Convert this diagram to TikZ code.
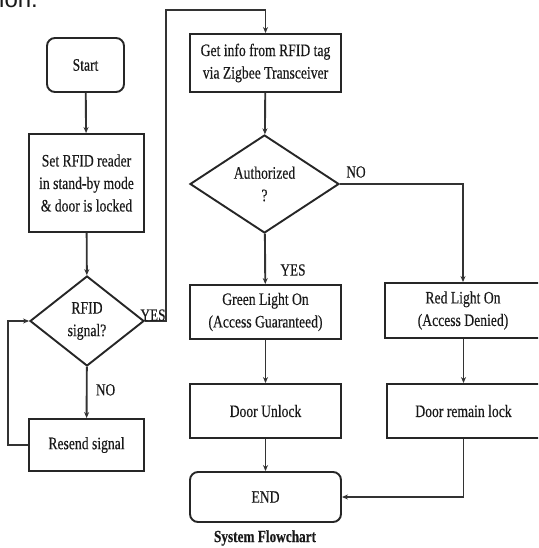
\documentclass[tikz,border=0pt]{standalone}
\usepackage{fontspec}
\setmainfont[FakeStretch=0.78,FakeBold=0.3]{Liberation Serif}
\newfontfamily\headfont{Liberation Sans}
\usetikzlibrary{shapes.geometric,arrows.meta}
\begin{document}
\begin{tikzpicture}[x=1pt,y=1pt,
  every node/.style={font=\fontsize{17.5}{22.5}\selectfont, text=black!90},
  box/.style={draw=black!85, line width=1.9pt, rectangle, inner sep=0pt, align=center},
  term/.style={box, rounded corners=8pt},
  dec/.style={draw=black!85, line width=1.9pt, diamond, inner sep=0pt, align=center},
  conn/.style={draw=black!80, line width=1.9pt, -{Stealth[length=6pt,width=5pt]}},
  lab/.style={font=\fontsize{17}{18}\selectfont}]
\useasboundingbox (0,0) rectangle (538,-548);
\clip (0,0) rectangle (538,-548);
\fill[white] (0,0) rectangle (538,-548);

\node[anchor=base west, inner sep=0pt, font=\headfont\fontsize{24}{24}\selectfont] (top) at (-1,-8) {ion.};

\node[term, minimum width=77pt, minimum height=54pt] (start) at (85.5,-65) {Start};
\node[box, minimum width=115pt, minimum height=98pt] (set) at (86.5,-183) {Set RFID reader\\in stand-by mode\\\& door is locked};
\node[dec, minimum width=114pt, minimum height=90pt] (rfid) at (87,-321) {RFID\\signal?};
\node[box, minimum width=115pt, minimum height=52pt] (resend) at (86.5,-445) {Resend signal};

\node[box, minimum width=151pt, minimum height=58pt] (get) at (265.5,-63) {Get info from RFID tag\\via Zigbee Transceiver};
\node[dec, minimum width=149pt, minimum height=98pt] (auth) at (264.5,-184) {Authorized\\?};
\node[box, minimum width=151pt, minimum height=54pt] (green) at (265.5,-312) {Green Light On\\(Access Guaranteed)};
\node[box, minimum width=156pt, minimum height=55pt] (red) at (463,-310.5) {Red Light On\\(Access Denied)};
\node[box, minimum width=151pt, minimum height=54pt] (doorU) at (265.5,-411) {Door Unlock};
\node[box, minimum width=153pt, minimum height=54pt] (doorL) at (463.5,-411) {Door remain lock};
\node[term, minimum width=151pt, minimum height=50pt] (end) at (265.5,-497) {END};
\node[font=\bfseries\fontsize{17}{18}\selectfont] (cap) at (265,-538) {System Flowchart};

\coordinate (loop) at (8,-445);
\coordinate (yesA) at (166,-321);
\coordinate (yesB) at (166,-10);

\draw[conn] (start) -- (set);
\draw[conn] (set) -- (rfid);
\draw[conn] (rfid) -- node[lab, right, pos=0.45, xshift=5pt] (no1) {NO} (resend);
\draw[conn] (resend.west) -- (loop) |- (rfid.west);
\draw[conn] (rfid.east) -- (yesA) -- (yesB) -| (get.north);
\node[lab, anchor=south, inner sep=1pt] (yes1) at (153,-322) {YES};
\draw[conn] (get) -- (auth);
\draw[conn] (auth) -- (green);
\node[lab] (yes2) at (293,-270) {YES};
\draw[conn] (auth.east) -| (red.north);
\node[lab] (no2) at (356,-172) {NO};
\draw[conn] (green) -- (doorU);
\draw[conn] (doorU) -- (end);
\draw[conn] (red.south -| doorL.south) -- (doorL.north);
\draw[conn] (doorL.south) |- (end.east);
\end{tikzpicture}
\end{document}
